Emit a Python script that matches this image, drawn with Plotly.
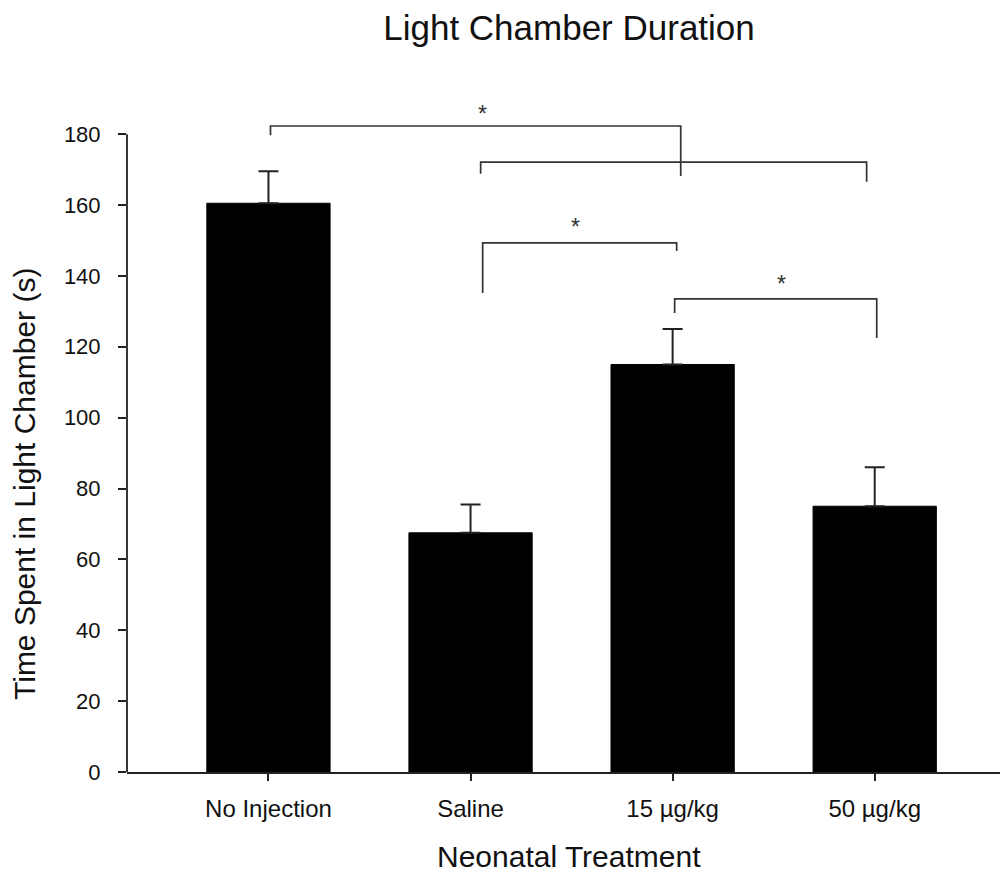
import plotly.graph_objects as go

# Group means and standard errors (seconds)
treatments = ["No Injection", "Saline", "15 µg/kg", "50 µg/kg"]
mean_time = [160.5, 67.5, 115.0, 75.0]
sem_time = [9.0, 8.0, 10.0, 11.0]
y_ticks = [0, 20, 40, 60, 80, 100, 120, 140, 160, 180]

# Significance brackets: (left group, right group, bar height, left drop, right drop)
brackets = [
    (0.01, 2.04, 182.3, 179.7, 168.2),
    (1.05, 2.96, 172.1, 168.8, 166.6),
    (1.06, 2.02, 149.3, 135.2, 147.0),
    (2.01, 3.01, 133.5, 129.5, 122.5),
]
# Asterisk marks: (x position, height)
stars = [(1.06, 185.6), (1.52, 153.8), (2.54, 137.6)]

FONT = "Liberation Sans, Arial, sans-serif"
INK = "#222222"

x_pos = list(range(len(treatments)))

fig = go.Figure()
fig.add_trace(go.Bar(
    x=x_pos,
    y=mean_time,
    width=0.61,
    marker=dict(color="black", line=dict(color="black", width=1)),
    error_y=dict(type="data", array=sem_time, arrayminus=[0] * len(sem_time),
                 symmetric=False, color=INK, thickness=2, width=10),
    showlegend=False,
    hoverinfo="skip",
))

for xl, xr, top, dl, dr in brackets:
    fig.add_shape(type="path",
                  path=f"M {xl} {dl} L {xl} {top} L {xr} {top} L {xr} {dr}",
                  xref="x", yref="y", line=dict(color="#333333", width=1.7))
for sx, sy in stars:
    fig.add_annotation(x=sx, y=sy, text="*", showarrow=False,
                       xref="x", yref="y", font=dict(size=23, color="#333", family=FONT),
                       yanchor="middle")

# Y axis line spans only the labelled range
fig.add_shape(type="line", xref="paper", yref="y", x0=0, x1=0, y0=0, y1=180,
              line=dict(color=INK, width=1.8))

fig.update_layout(
    width=1003, height=875,
    margin=dict(l=127, r=3, t=81, b=103),
    plot_bgcolor="white", paper_bgcolor="white",
    font=dict(family=FONT, color="black"),
    title=dict(text="Light Chamber Duration", x=569 / 1003, xanchor="center",
               y=1 - 28 / 875, yanchor="middle", yref="container",
               font=dict(size=35, family=FONT, color="#111")),
)
fig.update_xaxes(
    range=[-0.70, 3.62], tickmode="array", tickvals=x_pos, ticktext=treatments,
    showline=True, linecolor=INK, linewidth=1.8, ticks="outside", ticklen=7,
    tickwidth=1.8, tickcolor=INK, showgrid=False, zeroline=False,
    tickfont=dict(size=24, family=FONT, color="#111"),
    ticklabelstandoff=7,
)
fig.update_yaxes(
    range=[0, 195], tickmode="array", tickvals=y_ticks,
    showline=False, ticks="outside", ticklen=8, tickwidth=1.8, tickcolor=INK,
    showgrid=False, zeroline=False,
    tickfont=dict(size=22, family=FONT, color="#111"),
    ticklabelstandoff=13,
)

# Axis titles placed in plot-area (paper) coordinates
fig.add_annotation(text="Neonatal Treatment", x=(569 - 127) / 873, y=(772 - 856) / 691,
                   xref="paper", yref="paper", xanchor="center", yanchor="middle",
                   showarrow=False, font=dict(size=30, family=FONT, color="#111"))
fig.add_annotation(text="Time Spent in Light Chamber (s)", x=(24 - 127) / 873,
                   y=(772 - 484) / 691,
                   xref="paper", yref="paper", xanchor="center", yanchor="middle",
                   textangle=-90, showarrow=False,
                   font=dict(size=30, family=FONT, color="#111"))

fig.write_html("out.html")
